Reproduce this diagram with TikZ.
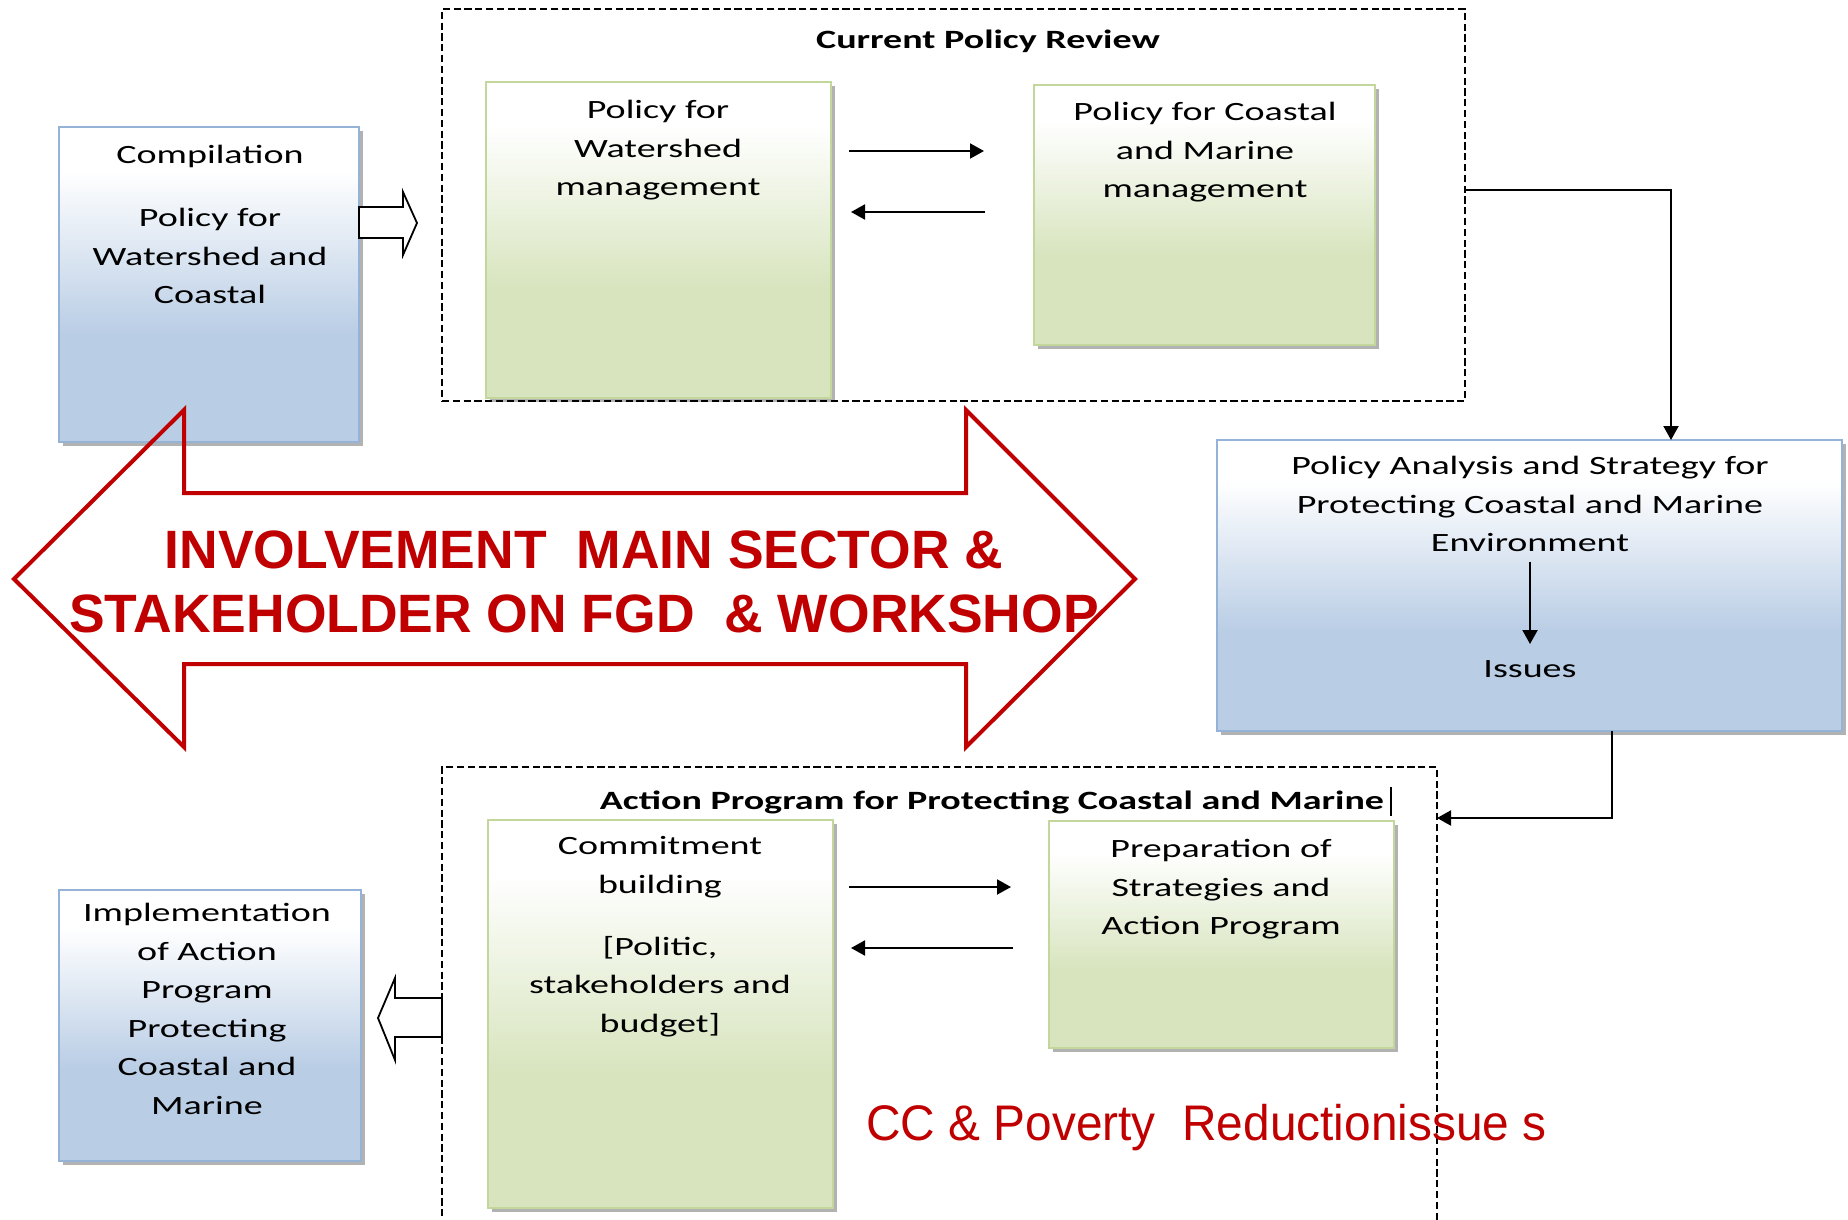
\documentclass[tikz,border=0pt]{standalone}
\usepackage{fontspec}
\usetikzlibrary{shadows,arrows.meta,calc}
\newfontfamily\boxfont[FakeStretch=1.44]{Carlito}
\newfontfamily\redbold[FakeStretch=0.99]{Liberation Sans}
\newfontfamily\rednarrow[FakeStretch=0.956]{Liberation Sans}
\definecolor{blueB}{HTML}{B9CDE5}
\definecolor{blueE}{HTML}{95B3D7}
\definecolor{greenB}{HTML}{D7E4BD}
\definecolor{greenE}{HTML}{C3D69B}
\definecolor{redA}{HTML}{C00000}
\pgfdeclareverticalshading{blueshade}{100bp}{color(0bp)=(blueB); color(25bp)=(blueB); color(42bp)=(blueB); color(68bp)=(white); color(75bp)=(white); color(100bp)=(white)}
\pgfdeclareverticalshading{greenshade}{100bp}{color(0bp)=(greenB); color(25bp)=(greenB); color(42bp)=(greenB); color(68bp)=(white); color(75bp)=(white); color(100bp)=(white)}
\tikzset{
  bluebox/.style={draw=blueE, line width=0.8pt, shade, shading=blueshade,
    drop shadow={shadow xshift=2pt, shadow yshift=-2pt, fill=black, fill opacity=0.3},
    inner sep=0, outer sep=0, anchor=north west},
  greenbox/.style={draw=greenE, line width=0.8pt, shade, shading=greenshade,
    drop shadow={shadow xshift=2pt, shadow yshift=-2pt, fill=black, fill opacity=0.3},
    inner sep=0, outer sep=0, anchor=north west},
  dbox/.style={draw=black, line width=0.9pt, dash pattern=on 3.6pt off 1.8pt,
    inner sep=0, outer sep=0, anchor=north west},
  boxtext/.style={font=\boxfont\fontsize{13.2}{19.25}\selectfont, align=center, anchor=north, inner sep=0},
  titletext/.style={font=\boxfont\bfseries\fontsize{13.2}{19.25}\selectfont, anchor=north, inner sep=0},
  conn/.style={draw=black, line width=1pt, -{Triangle[length=7pt,width=7.5pt]}},
  blockarrow/.style={draw=black, line width=0.9pt, fill=white, line join=miter},
  bigarrow/.style={draw=redA, line width=2pt, line join=miter},
  redtitle/.style={font=\redbold\bfseries\fontsize{27}{32}\selectfont, text=redA, align=center, anchor=north, inner sep=0},
  rednote/.style={font=\rednarrow\fontsize{25}{30}\selectfont, text=redA, anchor=base west, inner sep=0},
}
\begin{document}
\begin{tikzpicture}[x=0.5pt, y=-0.5pt]
\useasboundingbox (0,0) rectangle (1848,1220);
\clip (0,0) rectangle (1848,1220);
\fill[white] (0,0) rectangle (1848,1220);

% top dashed group
\node[dbox, minimum width=511.5pt, minimum height=196pt] (rev) at (442,9) {};
\node[titletext] (revt) at (988,30) {Current Policy Review};
\node[greenbox, minimum width=172.5pt, minimum height=158pt] (g1) at (486,82) {};
\node[greenbox, minimum width=170.5pt, minimum height=130pt] (g2) at (1034,85) {};
\node[boxtext] (g1t) at (658,100) {Policy for\\Watershed\\management};
\node[boxtext] (g2t) at (1205,102) {Policy for Coastal\\and Marine\\management};
\coordinate (a1s) at (849,151); \coordinate (a1e) at (984,151);
\coordinate (a2s) at (985,212); \coordinate (a2e) at (851,212);
\draw[conn] (a1s) -- (a1e);
\draw[conn] (a2s) -- (a2e);

% compilation box
\node[bluebox, minimum width=150pt, minimum height=157.5pt] (cmp) at (59,127) {};
\node[boxtext] (cmpt) at (210,145) {Compilation\\[12.25pt]Policy for\\Watershed and\\Coastal};
\draw[blockarrow] (359,207) -- (403,207) -- (403,192) -- (417,223) -- (403,255) -- (403,238) -- (359,238) -- cycle;

% policy analysis box
\node[bluebox, minimum width=312.5pt, minimum height=145.5pt] (pa) at (1217,440) {};
\node[boxtext] (pat) at (1530,456) {Policy Analysis and Strategy for\\Protecting Coastal and Marine\\Environment};
\node[boxtext] (iss) at (1530,660) {Issues};
\draw[conn] ([yshift=-4.75pt]pat.south) -- ([yshift=8pt]iss.north);
\draw[conn] ([yshift=7.5pt]rev.east) -| ([xshift=70.75pt]pa.north);

% bottom dashed group
\node[dbox, minimum width=497.5pt, minimum height=236.5pt] (act) at (442,767) {};
\node[titletext] (actt) at (992,791) {Action Program for Protecting Coastal and Marine};
\draw[line width=1.3pt] (1391,787) -- (1391,816);
\node[greenbox, minimum width=172.5pt, minimum height=194pt] (g3) at (488,820) {};
\node[greenbox, minimum width=172.5pt, minimum height=113.5pt] (g4) at (1049,821) {};
\node[boxtext] (g3t) at (660,836) {Commitment\\building\\[11.75pt]{[}Politic,\\stakeholders and\\budget{]}};
\node[boxtext] (g4t) at (1221,839) {Preparation of\\Strategies and\\Action Program};
\coordinate (a3s) at (849,887); \coordinate (a3e) at (1011,887);
\coordinate (a4s) at (1013,948); \coordinate (a4e) at (851,948);
\draw[conn] (a3s) -- (a3e);
\draw[conn] (a4s) -- (a4e);
\draw[conn] ([xshift=41.25pt]pa.south) |- ([yshift=92.75pt]act.east);

% implementation box
\node[bluebox, minimum width=151pt, minimum height=135.5pt] (imp) at (59,890) {};
\node[boxtext] (impt) at (207,903) {Implementation\\of Action\\Program\\Protecting\\Coastal and\\Marine};
\draw[blockarrow] (442,998) -- (395,998) -- (395,978) -- (378,1018) -- (395,1060) -- (395,1037) -- (442,1037) -- cycle;

% big red double arrow
\draw[bigarrow] (14,579) -- (184,410) -- (184,493) -- (966,493) -- (966,410) -- (1135,579) -- (966,747) -- (966,664) -- (184,664) -- (184,747) -- cycle;
\node[redtitle] (inv) at (584,530) {INVOLVEMENT\ \ MAIN SECTOR \&\\STAKEHOLDER ON FGD\ \ \& WORKSHOP};
\node[rednote] (cc) at (866,1140) {CC \& Poverty\ \ Reductionissue s};
\end{tikzpicture}
\end{document}
